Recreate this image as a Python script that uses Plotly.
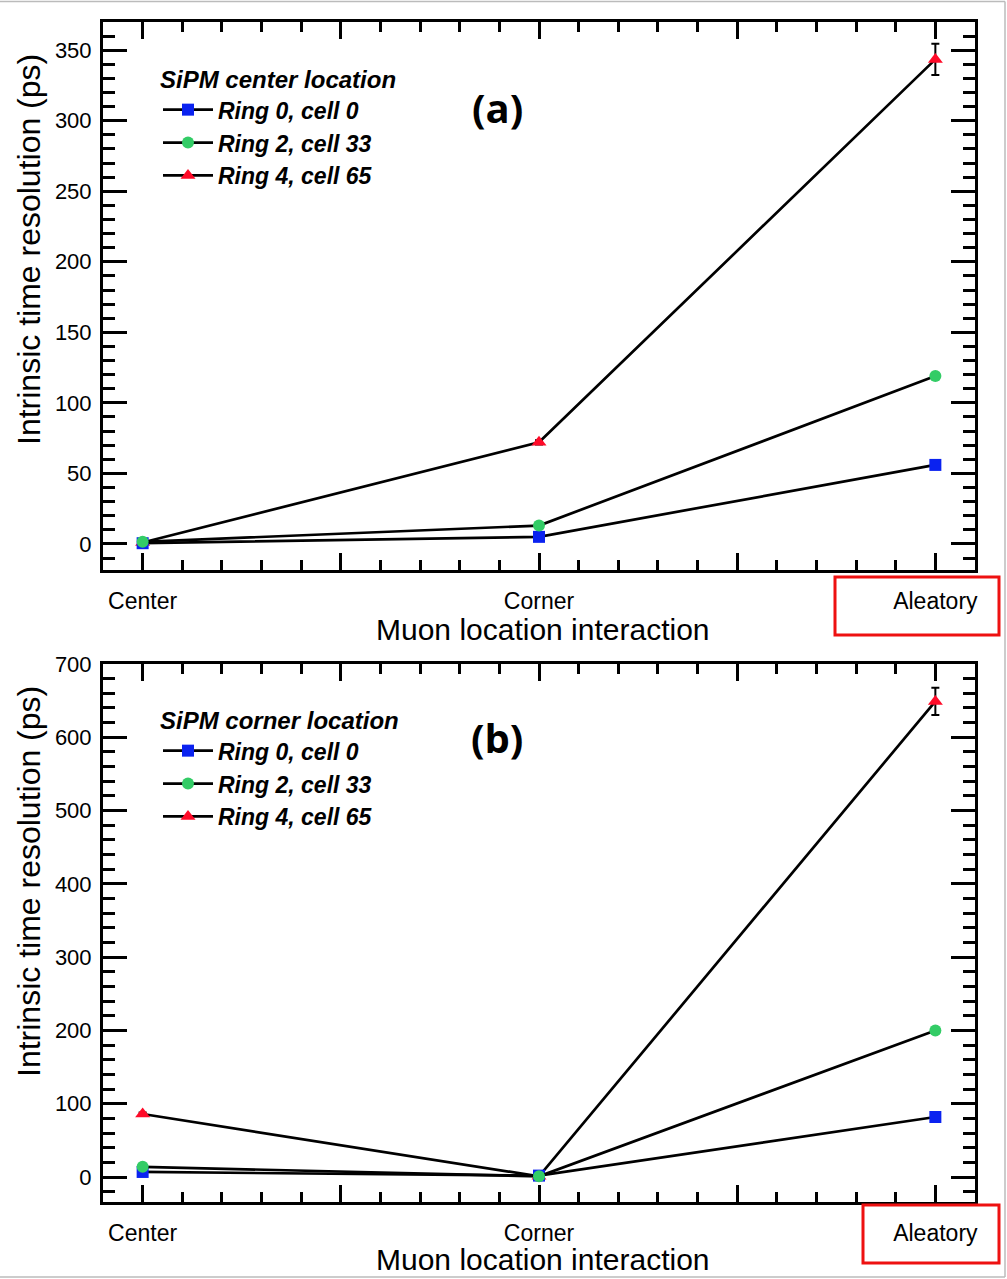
import plotly.graph_objects as go

# ---------------- data ----------------
categories = ["Center", "Corner", "Aleatory"]
cat_pos = [0, 1, 2]
series_names = ["Ring 0, cell 0", "Ring 2, cell 33", "Ring 4, cell 65"]

# Panel (a): SiPM center location
a_ring0 = [0.5, 5, 56]
a_ring0_err = [0.5, 1, 2]
a_ring2 = [1.5, 13, 119]
a_ring2_err = [0.5, 1, 2]
a_ring4 = [1, 72, 343.5]
a_ring4_err = [0.5, 1.5, 11]

# Panel (b): SiPM corner location
b_ring0 = [7, 2, 82]
b_ring0_err = [1, 0.5, 2]
b_ring2 = [14, 1, 200]
b_ring2_err = [1, 0.5, 3]
b_ring4 = [86, 1, 649]
b_ring4_err = [2, 0.5, 18.5]

colors = ["#0a22f0", "#33cc66", "#ff0a28"]
symbols = ["square", "circle", "triangle-up"]

FONT = "Liberation Sans"

fig = go.Figure()


def add_series(x, y, err, i, xa, ya, legend):
    fig.add_trace(go.Scatter(
        x=x, y=y, name=series_names[i], mode="lines+markers",
        xaxis=xa, yaxis=ya, legend=legend, legendrank=i + 1,
        line=dict(color="black", width=2.7),
        marker=dict(color=colors[i], symbol=symbols[i], size=12 if i != 2 else 13,
                    line=dict(width=0)),
        error_y=dict(type="data", array=err, visible=True, color="black",
                     thickness=2, width=4),
    ))


# draw order: red, blue, green (green on top, as in the reference)
for i, (ya_vals, ya_err) in [(2, (a_ring4, a_ring4_err)), (0, (a_ring0, a_ring0_err)),
                             (1, (a_ring2, a_ring2_err))]:
    add_series(cat_pos, ya_vals, ya_err, i, "x", "y", "legend")
for i, (yb_vals, yb_err) in [(2, (b_ring4, b_ring4_err)), (0, (b_ring0, b_ring0_err)),
                             (1, (b_ring2, b_ring2_err))]:
    add_series(cat_pos, yb_vals, yb_err, i, "x2", "y2", "legend2")

W, H = 1007, 1279
xdom = [103 / W, 975 / W]
ydom_a = [1 - 570 / H, 1 - 22 / H]
ydom_b = [1 - 1202 / H, 1 - 664 / H]


def xaxis_cfg(anchor):
    return dict(
        domain=xdom, anchor=anchor, range=[-0.1, 2.1], automargin=False,
        tickmode="array", tickvals=[0, 0.5, 1, 1.5, 2],
        ticktext=[categories[0], "", categories[1], "", categories[2]],
        ticks="inside", ticklen=17, tickwidth=2.5, tickcolor="black",
        showline=True, linewidth=3, linecolor="black", mirror="allticks",
        showgrid=False, zeroline=False,
        minor=dict(ticks="inside", ticklen=10, tickwidth=2.5, tickcolor="black",
                   tickmode="linear", tick0=0, dtick=0.1, showgrid=False),
        tickfont=dict(family=FONT, size=23, color="black"),
        ticklabelstandoff=8,
    )


def yaxis_cfg(anchor, dom, rng, dtick, mdtick):
    return dict(
        domain=dom, anchor=anchor, range=rng, automargin=False,
        tickmode="linear", tick0=0, dtick=dtick,
        ticks="inside", ticklen=24, tickwidth=2.5, tickcolor="black",
        showline=True, linewidth=3, linecolor="black", mirror="allticks",
        showgrid=False, zeroline=False,
        minor=dict(ticks="inside", ticklen=12, tickwidth=2.5, tickcolor="black",
                   tickmode="linear", tick0=0, dtick=mdtick, showgrid=False),
        tickfont=dict(family=FONT, size=22, color="black"),
        ticklabelstandoff=4,
    )


legend_font = dict(family=FONT, size=23, color="black", weight="bold", style="italic")
legend_common = dict(
    xanchor="left", yanchor="top", bgcolor="rgba(0,0,0,0)",
    font=legend_font, itemwidth=50, tracegroupgap=0,
)

fig.update_layout(
    width=W, height=H, autosize=False,
    margin=dict(l=0, r=0, t=0, b=0, pad=0, autoexpand=False),
    paper_bgcolor="white", plot_bgcolor="white",
    xaxis=xaxis_cfg("y"),
    yaxis=yaxis_cfg("x", ydom_a, [-18.5, 370], 50, 10),
    xaxis2=xaxis_cfg("y2"),
    yaxis2=yaxis_cfg("x2", ydom_b, [-34, 700], 100, 20),
    legend=dict(x=158 / W, y=1 - 57 / H,
                title=dict(text="SiPM center location",
                           font=dict(legend_font, size=24)),
                **legend_common),
    legend2=dict(x=158 / W, y=1 - 698 / H,
                 title=dict(text="SiPM corner location",
                            font=dict(legend_font, size=24)),
                 **legend_common),
    showlegend=True,
)

# Panel labels, axis titles
ann = []
for txt, yc in [("(a)", 107), ("(b)", 737)]:
    ann.append(dict(text=txt, x=497 / W, y=1 - yc / H, xref="paper", yref="paper",
                    xanchor="center", yanchor="middle", showarrow=False,
                    font=dict(family="Open Sans", size=40, color="black", weight="bold")))
for yc in [629, 1259]:
    ann.append(dict(text="Muon location interaction", x=543 / W, y=1 - yc / H,
                    xref="paper", yref="paper", xanchor="center", yanchor="middle",
                    showarrow=False, font=dict(family=FONT, size=30, color="black")))
for yc in [250, 882]:
    ann.append(dict(text="Intrinsic time resolution (ps)", x=29 / W, y=1 - yc / H,
                    xref="paper", yref="paper", xanchor="center", yanchor="middle",
                    textangle=-90, showarrow=False,
                    font=dict(family=FONT, size=32, color="black")))
fig.update_layout(annotations=ann)

# red highlight boxes and light frame
shapes = [
    dict(type="rect", xref="paper", yref="paper", x0=835 / W, x1=999 / W,
         y0=1 - 635 / H, y1=1 - 577 / H, line=dict(color="#ee1111", width=3)),
    dict(type="rect", xref="paper", yref="paper", x0=863 / W, x1=999 / W,
         y0=1 - 1263 / H, y1=1 - 1205 / H, line=dict(color="#ee1111", width=3)),
    dict(type="line", xref="paper", yref="paper", x0=0, x1=1005 / W,
         y0=1 - 1.5 / H, y1=1 - 1.5 / H, line=dict(color="#bbbbbb", width=1.5)),
    dict(type="line", xref="paper", yref="paper", x0=1005 / W, x1=1005 / W,
         y0=1 - 1.5 / H, y1=1 - 1277 / H, line=dict(color="#bbbbbb", width=1.5)),
    dict(type="line", xref="paper", yref="paper", x0=0, x1=1005 / W,
         y0=1 - 1277 / H, y1=1 - 1277 / H, line=dict(color="#bbbbbb", width=1.5)),
]
fig.update_layout(shapes=shapes)

fig.write_html("out.html")
